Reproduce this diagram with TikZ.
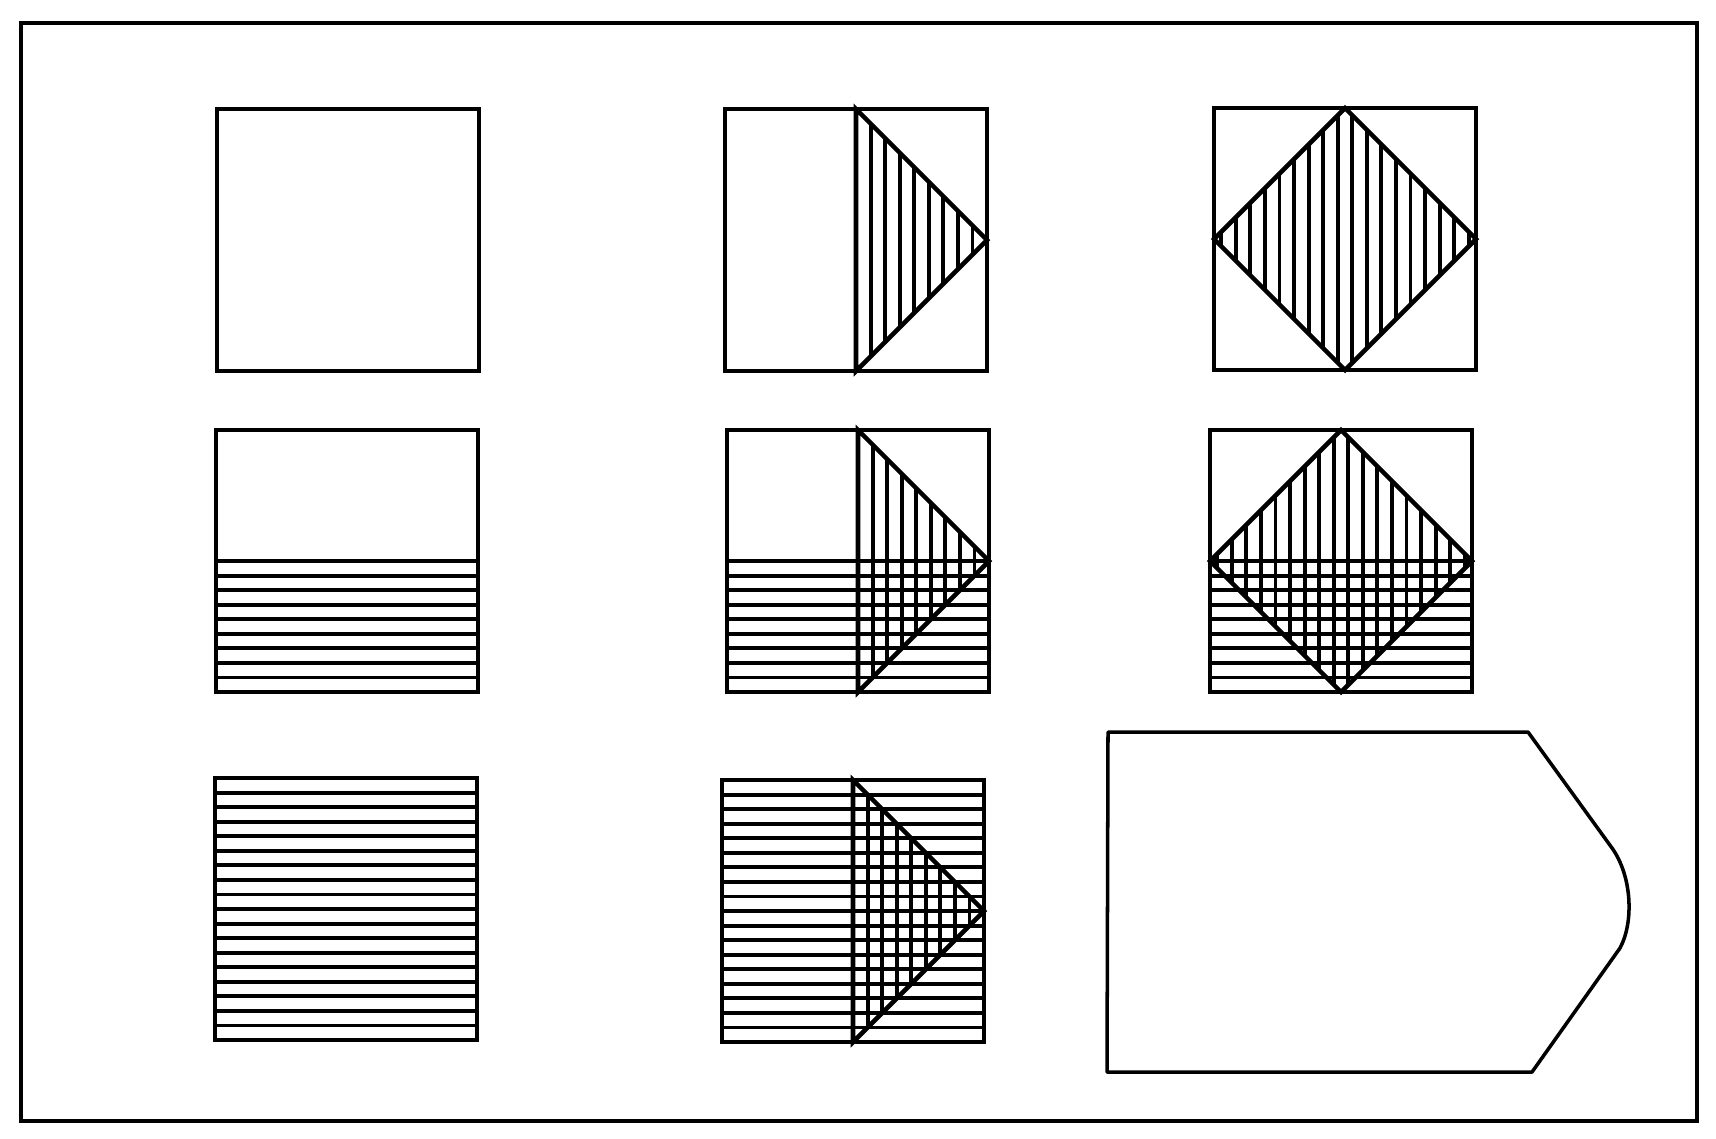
\documentclass[tikz,border=0pt]{standalone}
\tikzset{
  box/.style={line width=1.3pt, line join=miter},
  hatch/.style={line width=1.1pt},
  frameline/.style={line width=1.3pt},
}
\begin{document}
\begin{tikzpicture}[x=0.01cm,y=-0.01cm]
\useasboundingbox (0,0) rectangle (1716,1138);
\def\dd{14.556}
% outer frame
\draw[frameline] (21,23) rectangle (1697,1121);

% S1 empty
\begin{scope}[shift={(217,109)}]
  \draw[box] (0,0) rectangle (262,262);
\end{scope}

% S2 triangle with vertical hatch
\begin{scope}[shift={(725,109)}]
  \begin{scope}
    \clip (131,0) -- (262,131) -- (131,262) -- cycle;
    \foreach \k in {1,...,9} \draw[hatch] ({131+\k*\dd},0) -- ++(0,262);
  \end{scope}
  \draw[box] (131,0) -- (262,131) -- (131,262) -- cycle;
  \draw[box] (0,0) rectangle (262,262);
\end{scope}

% S3 diamond with vertical hatch
\begin{scope}[shift={(1214,108)}]
  \begin{scope}
    \clip (131,0) -- (262,131) -- (131,262) -- (0,131) -- cycle;
    \foreach \k in {0,...,17} \draw[hatch] ({7.278+\k*\dd},0) -- ++(0,262);
  \end{scope}
  \draw[box] (131,0) -- (262,131) -- (131,262) -- (0,131) -- cycle;
  \draw[box] (0,0) rectangle (262,262);
\end{scope}

% S4 lower half horizontal hatch
\begin{scope}[shift={(216,430)}]
  \foreach \k in {0,...,9} \draw[hatch] (0,{131+\k*\dd}) -- ++(262,0);
  \draw[box] (0,0) rectangle (262,262);
\end{scope}

% S5 lower half horizontal + triangle vertical
\begin{scope}[shift={(727,430)}]
  \foreach \k in {0,...,9} \draw[hatch] (0,{131+\k*\dd}) -- ++(262,0);
  \begin{scope}
    \clip (131,0) -- (262,131) -- (131,262) -- cycle;
    \foreach \k in {1,...,9} \draw[hatch] ({131+\k*\dd},0) -- ++(0,262);
  \end{scope}
  \draw[box] (131,0) -- (262,131) -- (131,262) -- cycle;
  \draw[box] (0,0) rectangle (262,262);
\end{scope}

% S6 lower half horizontal + diamond vertical
\begin{scope}[shift={(1210,430)}]
  \foreach \k in {0,...,9} \draw[hatch] (0,{131+\k*\dd}) -- ++(262,0);
  \begin{scope}
    \clip (131,0) -- (262,131) -- (131,262) -- (0,131) -- cycle;
    \foreach \k in {0,...,17} \draw[hatch] ({7.278+\k*\dd},0) -- ++(0,262);
  \end{scope}
  \draw[box] (131,0) -- (262,131) -- (131,262) -- (0,131) -- cycle;
  \draw[box] (0,0) rectangle (262,262);
\end{scope}

% S7 full horizontal hatch
\begin{scope}[shift={(215,778)}]
  \foreach \k in {1,...,17} \draw[hatch] (0,{\k*\dd}) -- ++(262,0);
  \draw[box] (0,0) rectangle (262,262);
\end{scope}

% S8 full horizontal + triangle vertical
\begin{scope}[shift={(722,780)}]
  \foreach \k in {1,...,17} \draw[hatch] (0,{\k*\dd}) -- ++(262,0);
  \begin{scope}
    \clip (131,0) -- (262,131) -- (131,262) -- cycle;
    \foreach \k in {1,...,9} \draw[hatch] ({131+\k*\dd},0) -- ++(0,262);
  \end{scope}
  \draw[box] (131,0) -- (262,131) -- (131,262) -- cycle;
  \draw[box] (0,0) rectangle (262,262);
\end{scope}

% pointed shape
\draw[line width=1.0pt, line join=round]
  (1108,732) -- (1528,732) -- (1612,848)
  .. controls (1632,876) and (1634,922) .. (1620,948)
  -- (1532,1072) -- (1107,1072) -- cycle;
\end{tikzpicture}
\end{document}
